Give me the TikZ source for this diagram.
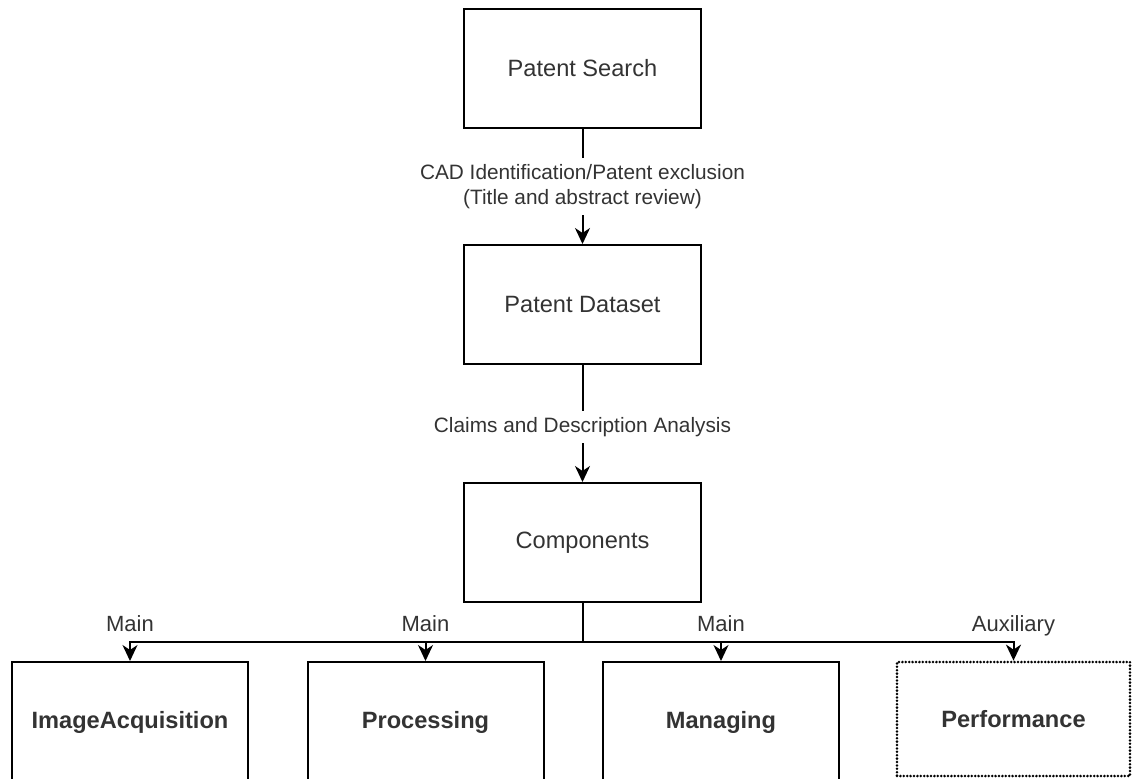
\documentclass[tikz,border=0pt]{standalone}
\usepackage{fontspec}
\setmainfont{Liberation Sans}
\usepackage{xcolor}
\usetikzlibrary{arrows.meta,positioning}

\begin{document}
\begin{tikzpicture}[x=0.5pt, y=-0.5pt,
    block/.style={draw, line width=1pt, minimum width=118.5pt, minimum height=59.5pt,
                  text=black!80, font=\fontsize{11.8}{14}\selectfont},
    leafblock/.style={block, minimum width=118pt, minimum height=60pt,
                  font=\fontsize{11.8}{14}\selectfont\bfseries},
    dotblock/.style={leafblock, minimum width=116.5pt, minimum height=57pt,
                  line width=1.4pt, line cap=round, dash pattern=on 0pt off 1.7pt},
    link/.style={line width=1pt, -{Stealth[length=8pt, width=7.5pt, inset=2.5pt]}},
    edgelabel/.style={fill=white, text=black!80, align=center,
                  font=\fontsize{10.4}{12.5}\selectfont},
    branchlabel/.style={above=5pt, inner sep=0pt, text depth=0pt, text=black!80,
                  font=\fontsize{11}{13}\selectfont}]

    % Marco de la figura
    \useasboundingbox (0,0) rectangle (1132,778);
    \clip (0,0) rectangle (1132,778);

    % Etapas principales
    \node[block] (search) at (582.5,68.5) {Patent Search};
    \node[block] (dataset) at (582.5,304.5) {Patent Dataset};
    \node[block] (comp) at (582.5,542.5) {Components};

    % Componentes
    \node[leafblock] (acq) at (130,722) {ImageAcquisition};
    \node[leafblock] (proc) at (425.5,722) {Processing};
    \node[leafblock] (manag) at (721,722) {Managing};
    \node[dotblock] (perf) at (1013.5,719) {Performance};

    % Flechas entre etapas
    \draw[link] (search) -- node[edgelabel] {CAD Identification/Patent exclusion\\(Title and abstract review)} (dataset);
    \draw[link] (dataset) -- node[edgelabel, pos=0.53] {Claims and Description Analysis} (comp);

    % Reparto hacia los componentes
    \coordinate (bus) at (582.5,642);
    \draw[line width=1pt] (comp) -- (bus);
    \draw[link] (bus) -| node[branchlabel] {Main} (acq);
    \draw[link] (bus) -| node[branchlabel] {Main} (proc);
    \draw[link] (bus) -| node[branchlabel] {Main} (manag);
    \draw[link] (bus) -| node[branchlabel] {Auxiliary} (perf);
\end{tikzpicture}
\end{document}
